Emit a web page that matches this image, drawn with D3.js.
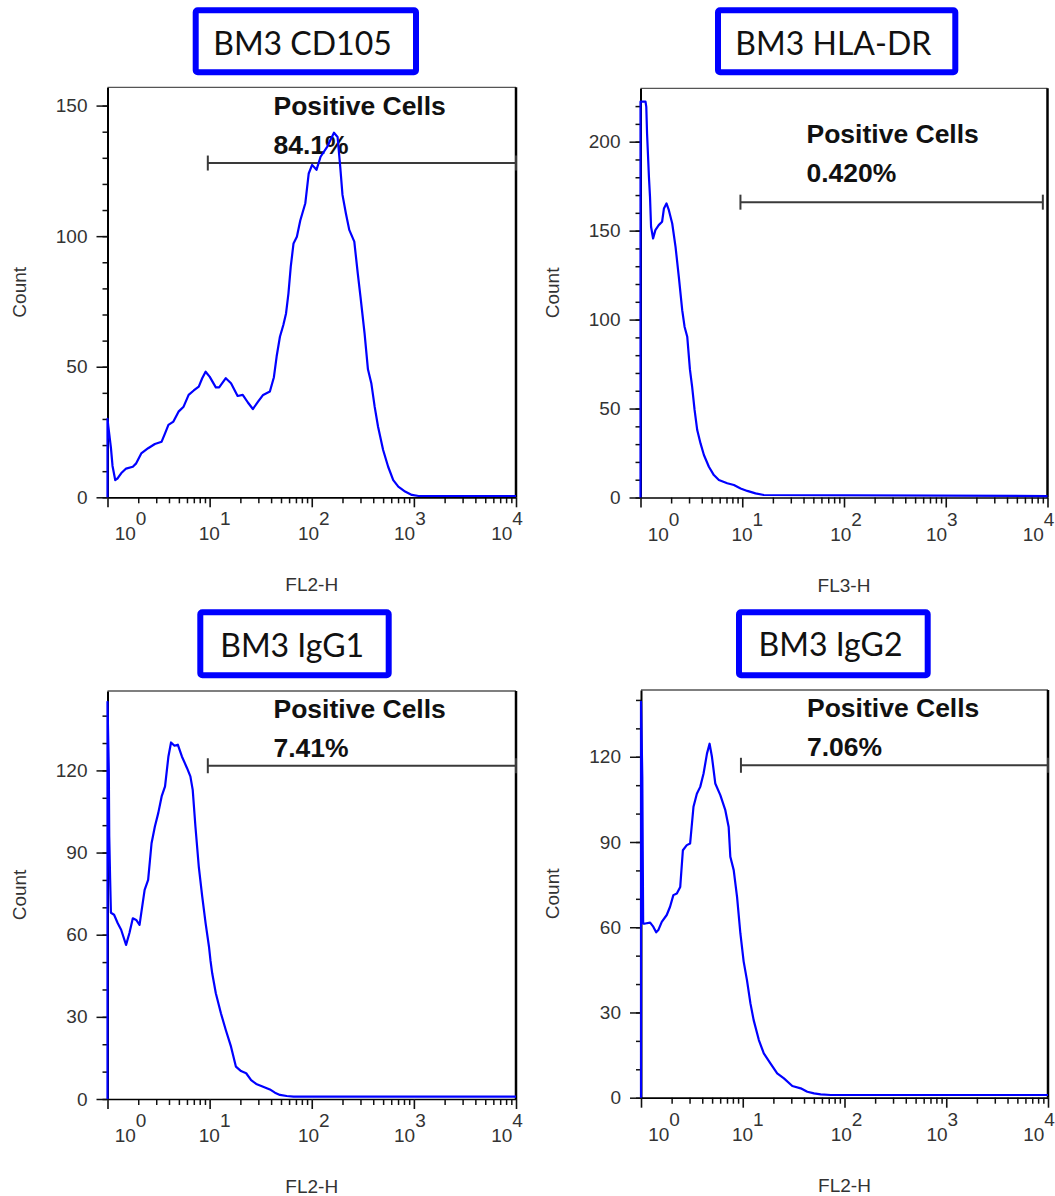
<!DOCTYPE html>
<html>
<head>
<meta charset="utf-8">
<script src="https://cdn.jsdelivr.net/npm/d3@7"></script>
<style>
  body { margin: 0; background: #fff; }
  svg { display: block; }
</style>
</head>
<body>
<div id="vis"></div>
<script>
// ---- data ----
const titles   = ["BM3 CD105", "BM3 HLA-DR", "BM3 IgG1", "BM3 IgG2"];
const channels = ["FL2-H", "FL3-H", "FL2-H", "FL2-H"];
const percents = ["84.1%", "0.420%", "7.41%", "7.06%"];
const gateFrom  = [9.6, 9.6, 9.6, 9.6];
const gateTo    = [10000, 9000, 10000, 10000];
const gateLevel = [128, 166, 121.7, 117];
const yMax   = [157, 230, 149, 143.5];
const yMajor = [[0, 50, 100, 150], [0, 50, 100, 150, 200], [0, 30, 60, 90, 120], [0, 30, 60, 90, 120]];
const decades   = [1, 10, 100, 1000, 10000];
const exponents = ["0", "1", "2", "3", "4"];

const cd105X = [1, 1, 1.02, 1.08, 1.12, 1.19, 1.26, 1.36, 1.52, 1.77,
  1.91, 2.14, 2.50, 2.91, 3.39, 3.66, 3.95, 4.42, 4.96, 5.56,
  6.23, 6.99, 7.83, 8.46, 9.13, 10.0, 11.5, 12.4, 14.4, 16.2,
  18.8, 21.1, 23.7, 26.5, 29.8, 33.4, 38.9, 42.6, 45.3, 48.8,
  52.7, 56.0, 59.1, 62.3, 66.3, 71.5, 77.2, 86.5, 93.4, 100.8,
  111.3, 122, 142, 165, 179, 190, 200, 216, 233, 261,
  282, 300, 329, 355, 383, 413, 446, 500, 560, 628,
  704, 820, 955, 1113, 10000];
const cd105Y = [0, 30, 27, 19, 12, 6.6, 7.3, 9.2, 11, 11.7,
  13, 16.8, 18.8, 20.4, 21.3, 24.5, 27.7, 29, 32.8, 34.7,
  39.2, 40.9, 42.4, 45.6, 48.1, 46.2, 42.1, 42.1, 45.6, 43.7,
  38.8, 39.2, 36.3, 33.8, 36.6, 39.2, 40.5, 46, 53.9, 61.5,
  66, 70.4, 78, 88.3, 97.2, 99.8, 106, 112.6, 124, 127.3,
  125.4, 130.4, 134.3, 139.6, 138, 126.6, 115.8, 108.7, 102.4, 97.9,
  85.8, 76.8, 62.8, 49, 43.7, 34.7, 27, 18.1, 11.7, 6.6,
  4.1, 2.2, 0.9, 0.5, 0.5];

const hlaX = [1, 1, 1.12, 1.14, 1.16, 1.21, 1.24, 1.27, 1.33, 1.40,
  1.51, 1.63, 1.70, 1.80, 1.90, 2.05, 2.21, 2.38, 2.57, 2.71,
  2.88, 3.06, 3.22, 3.40, 3.61, 3.89, 4.20, 4.70, 5.26, 5.89,
  7.12, 8.28, 9.63, 11.2, 13.5, 16.3, 10000];
const hlaY = [0, 222.5, 222.5, 219.6, 204.6, 180.3, 169, 152.2, 145.6, 150.3,
  153.1, 155, 162.5, 165.3, 161.5, 154, 140.9, 124, 105.3, 96,
  90.4, 72, 62, 49.2, 37.9, 30.4, 23.9, 17.3, 12.6, 9.8,
  8.0, 7.0, 5.1, 3.7, 2.3, 1.4, 0.8];

const igg1X = [1, 1, 1.03, 1.04, 1.06, 1.08, 1.16, 1.26, 1.36, 1.52,
  1.64, 1.77, 1.91, 2.06, 2.14, 2.31, 2.50, 2.70, 2.91, 3.14,
  3.39, 3.66, 3.95, 4.19, 4.53, 4.88, 5.35, 6.00, 6.48, 6.83,
  7.26, 7.83, 8.46, 9.13, 9.85, 10.2, 10.6, 11.5, 12.9, 14.4,
  16.2, 18.1, 20.3, 22.8, 25.5, 28.6, 33.4, 38.9, 43.6, 48.8,
  56.9, 66.3, 10000];
const igg1Y = [0, 145, 120, 96, 81, 68, 67.3, 64.2, 61.8, 56.3,
  60.6, 66, 65.4, 63.6, 67.9, 76.4, 80, 93.4, 99.5, 104.4,
  110.5, 114.2, 125.1, 130.2, 129, 129.4, 125.1, 120.9, 117.8, 112.9,
  99.5, 84.9, 74, 64.2, 55.7, 50.5, 45.9, 38.6, 31.3, 25.2,
  19.1, 11.8, 10.2, 9.4, 6.9, 5.5, 4.5, 3.5, 2.3, 1.5,
  1.1, 0.85, 0.85];

const igg2X = [1, 1, 1.03, 1.05, 1.10, 1.23, 1.32, 1.41, 1.48, 1.60,
  1.79, 1.93, 2.08, 2.25, 2.43, 2.58, 2.82, 3.04, 3.28, 3.54,
  3.82, 4.12, 4.45, 4.72, 4.98, 5.37, 6.02, 6.74, 7.27, 7.55,
  8.15, 8.79, 9.48, 10.2, 11.0, 11.9, 12.8, 14.4, 16.1, 18.7,
  21.8, 25.4, 30.7, 37.1, 43.1, 50.2, 58.4, 73.3, 10000];
const igg2Y = [0, 139.3, 112.9, 61.3, 61.3, 61.6, 60.2, 58.2, 59, 61.9,
  64.3, 67.2, 71.3, 71.9, 74.2, 87.1, 88.9, 89.5, 102.4, 107,
  109.4, 114.1, 121.1, 124.6, 120, 110.6, 106.5, 101.2, 95.3, 84.8,
  80.1, 70.7, 57.8, 48, 41.4, 33.2, 27.3, 20.3, 15.6, 12.1,
  8.6, 6.8, 4.1, 3.3, 2.1, 1.5, 1.2, 0.95, 0.95];

const seriesX = [cd105X, hlaX, igg1X, igg2X];
const seriesY = [cd105Y, hlaY, igg1Y, igg2Y];

// ---- layout ----
var frames = [
  {left: 107.5, right: 516,    top: 87.3, bottom: 497.3, labelTop: 27.7},
  {left: 640.5, right: 1047.5, top: 88.3, bottom: 497.5, labelTop: 54.4},
  {left: 107.5, right: 516,    top: 691,  bottom: 1099,  labelTop: 27.3},
  {left: 641,   right: 1048,   top: 690,  bottom: 1097.7, labelTop: 26.7}
];
var boxes = [
  {x: 195.7, y: 10.3, w: 220.3, h: 62, tx: 302.5, ty: 55},
  {x: 718,   y: 10.3, w: 237.3, h: 62, tx: 833.3, ty: 54.5},
  {x: 200.3, y: 612.3, w: 188.4, h: 63, tx: 292.2, ty: 656.7},
  {x: 739,   y: 612.3, w: 188.7, h: 63, tx: 830.5, ty: 656}
];
var expOffset = [23, 5, 2, -4, -9];   // decade labels drift like the original
var font = "'Liberation Sans', Arial, sans-serif";

var svg = d3.select("#vis").append("svg")
    .attr("width", 1055)
    .attr("height", 1196);

var minorX = [];
decades.slice(0, 4).forEach(function (d) {
    for (var m = 2; m <= 9; m++) minorX.push(m * d);
});

frames.forEach(function (f, i) {
    var g = svg.append("g");

    var x = d3.scaleLog().domain([1, 10000]).range([f.left, f.right]);
    var y = d3.scaleLinear().domain([0, yMax[i]]).range([f.bottom, f.top]);

    // frame: thin top, heavy right
    g.append("line")
        .attr("x1", f.left).attr("x2", f.right)
        .attr("y1", f.top).attr("y2", f.top)
        .attr("stroke", "#555").attr("stroke-width", 1.3);
    g.append("line")
        .attr("x1", f.right).attr("x2", f.right)
        .attr("y1", f.top).attr("y2", f.bottom)
        .attr("stroke", "#000").attr("stroke-width", 2.5);

    // y axis
    var yMinor = d3.range(0, yMax[i], 10);
    g.append("g")
        .attr("transform", `translate(${f.left},0)`)
        .call(d3.axisLeft(y).tickValues(yMinor).tickSize(5).tickSizeOuter(0).tickFormat(""))
        .call(a => a.select(".domain").remove())
        .selectAll("line").attr("stroke", "#111").attr("stroke-width", 1.5);

    var yAx = g.append("g")
        .attr("transform", `translate(${f.left},0)`)
        .call(d3.axisLeft(y).tickValues(yMajor[i]).tickSize(11).tickPadding(9).tickSizeOuter(0));
    yAx.select(".domain").attr("stroke", "#000").attr("stroke-width", 2);
    yAx.selectAll("line").attr("stroke", "#111").attr("stroke-width", 1.5);
    yAx.selectAll("text")
        .attr("font-family", font).attr("font-size", 19).attr("fill", "#333");

    // x axis
    g.append("g")
        .attr("transform", `translate(0,${f.bottom})`)
        .call(d3.axisBottom(x).tickValues(minorX).tickSize(6).tickSizeOuter(0).tickFormat(""))
        .call(a => a.select(".domain").remove())
        .selectAll("line").attr("stroke", "#111").attr("stroke-width", 1.5);

    var xAx = g.append("g")
        .attr("transform", `translate(0,${f.bottom})`)
        .call(d3.axisBottom(x).tickValues(decades).tickSize(10).tickSizeOuter(0).tickFormat(""));
    xAx.select(".domain").attr("stroke", "#000").attr("stroke-width", 1.7);
    xAx.selectAll("line").attr("stroke", "#111").attr("stroke-width", 1.6);

    decades.forEach(function (d, k) {
        var t = g.append("text")
            .attr("x", x(d) + expOffset[k])
            .attr("y", f.bottom + 43)
            .attr("text-anchor", "middle")
            .attr("font-family", font).attr("font-size", 19).attr("fill", "#333");
        t.append("tspan").text("10");
        t.append("tspan").attr("dy", -15).text(exponents[k]);
    });

    // axis titles
    g.append("text")
        .attr("x", (f.left + f.right) / 2)
        .attr("y", f.bottom + 94)
        .attr("text-anchor", "middle")
        .attr("font-family", font).attr("font-size", 19).attr("fill", "#333")
        .text(channels[i]);
    g.append("text")
        .attr("transform", `translate(${f.left - 82},${(f.top + f.bottom) / 2}) rotate(-90)`)
        .attr("text-anchor", "middle")
        .attr("font-family", font).attr("font-size", 19).attr("fill", "#333")
        .text("Count");

    // gate marker
    var gy = y(gateLevel[i]);
    var gate = g.append("g").attr("stroke", "#3a3a3a").attr("stroke-width", 2);
    gate.append("line").attr("x1", x(gateFrom[i])).attr("x2", x(gateTo[i])).attr("y1", gy).attr("y2", gy);
    [gateFrom[i], gateTo[i]].forEach(function (v) {
        gate.append("line").attr("x1", x(v)).attr("x2", x(v)).attr("y1", gy - 7.5).attr("y2", gy + 7.5);
    });

    g.append("text")
        .attr("x", f.left + 166).attr("y", f.top + f.labelTop)
        .attr("font-family", font).attr("font-size", 26.5).attr("font-weight", "bold").attr("fill", "#111")
        .text("Positive Cells");
    g.append("text")
        .attr("x", f.left + 166).attr("y", f.top + f.labelTop + 39)
        .attr("font-family", font).attr("font-size", 26.5).attr("font-weight", "bold").attr("fill", "#111")
        .text(percents[i]);

    // histogram trace
    var line = d3.line().x(d => x(d[0])).y(d => y(d[1]));
    g.append("path")
        .datum(d3.zip(seriesX[i], seriesY[i]))
        .attr("fill", "none")
        .attr("stroke", "#0000ff")
        .attr("stroke-width", 2.2)
        .attr("stroke-linejoin", "round")
        .attr("d", line);

    // title box
    var b = boxes[i];
    svg.append("rect")
        .attr("x", b.x).attr("y", b.y).attr("width", b.w).attr("height", b.h)
        .attr("rx", 2)
        .attr("fill", "#fff").attr("stroke", "#0000ff").attr("stroke-width", 6);
    svg.append("text")
        .attr("x", b.tx).attr("y", b.ty)
        .attr("text-anchor", "middle")
        .attr("font-family", "Lato, 'Open Sans', sans-serif").attr("font-size", 32).attr("fill", "#111")
        .text(titles[i]);
});
</script>
</body>
</html>
